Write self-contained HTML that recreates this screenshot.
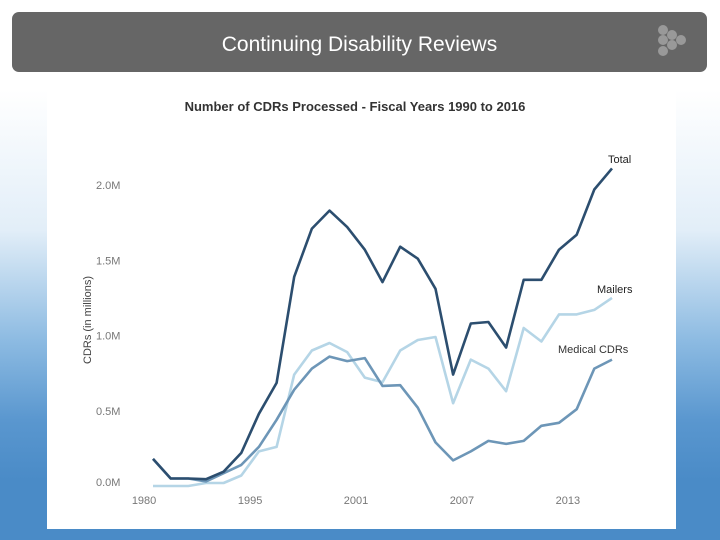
<!DOCTYPE html>
<html><head><meta charset="utf-8">
<style>
html,body{margin:0;padding:0;}
body{width:720px;height:540px;overflow:hidden;position:relative;font-family:"Liberation Sans",sans-serif;
background:linear-gradient(to bottom,#ffffff 0px,#ffffff 90px,#e2eef8 230px,#8dbbe2 340px,#5a97cf 420px,#4a8bc7 480px,#4a8bc7 540px);}
#hdr{position:absolute;left:12px;top:12px;width:695px;height:60px;background:#666;border-radius:7px;}
#hdr .t{position:absolute;left:0;right:0;top:21px;text-align:center;color:#fff;font-size:21px;}
#panel{position:absolute;left:47px;top:85px;width:629px;height:444px;background:#fff;}
svg{position:absolute;left:0;top:0;}
</style></head><body>
<div id="hdr"><div class="t">Continuing Disability Reviews</div>
<svg width="40" height="40" style="left:643px;top:12px">
<circle cx="8" cy="6" r="5" fill="#999"/><circle cx="8" cy="16" r="5" fill="#999"/><circle cx="17" cy="11" r="5" fill="#999"/><circle cx="17" cy="21" r="5" fill="#999"/><circle cx="26" cy="16" r="5" fill="#999"/><circle cx="8" cy="27" r="5" fill="#999"/>
</svg></div>
<div id="panel"></div>
<svg id="chart" width="720" height="540"></svg>
<script>
const years=[1990,1991,1992,1993,1994,1995,1996,1997,1998,1999,2000,2001,2002,2003,2004,2005,2006,2007,2008,2009,2010,2011,2012,2013,2014,2015,2016];
const totalValues=[0.18,0.05,0.05,0.045,0.095,0.22,0.48,0.685,1.39,1.71,1.83,1.72,1.57,1.355,1.59,1.51,1.31,0.74,1.08,1.09,0.92,1.37,1.37,1.57,1.67,1.97,2.11];
const mailerValues=[0,0,0,0.02,0.02,0.07,0.23,0.26,0.74,0.9,0.95,0.89,0.72,0.69,0.9,0.97,0.99,0.55,0.84,0.78,0.63,1.05,0.96,1.14,1.14,1.17,1.25];
const medicalValues=[0.18,0.05,0.05,0.03,0.085,0.14,0.26,0.44,0.64,0.78,0.86,0.83,0.85,0.665,0.67,0.52,0.29,0.17,0.23,0.30,0.28,0.30,0.40,0.42,0.51,0.78,0.84];
const yTicks=[0,0.5,1.0,1.5,2.0];
const yTickLabels=["0.0M","0.5M","1.0M","1.5M","2.0M"];
const xTickLabels=["1980","1995","2001","2007","2013"];
const xTickIdx=[-0.45,5.5,11.5,17.5,23.5];

const NS="http://www.w3.org/2000/svg";
const svg=document.getElementById('chart');
const x=i=>153+i*(459/26);
const y=v=>486-150.5*v;
function mk(tag,attrs,txt){const e=document.createElementNS(NS,tag);for(const k in attrs)e.setAttribute(k,attrs[k]);if(txt!==undefined)e.textContent=txt;svg.appendChild(e);return e;}

let t=mk('text',{x:355,y:111,'text-anchor':'middle','font-size':13,fill:'#333','font-weight':'bold'},'Number of CDRs Processed - Fiscal Years 1990 to 2016');


t=mk('text',{x:0,y:0,transform:'translate(91,320) rotate(-90)','text-anchor':'middle','font-size':11,fill:'#444'},'CDRs (in millions)');



yTicks.forEach((v,k)=>{
  const e=mk('text',{x:96,y:y(v)+(v===0?0:4),'font-size':11,fill:'#777'},yTickLabels[k]);
  
  
});
xTickLabels.forEach((s,k)=>{
  const e=mk('text',{x:x(xTickIdx[k])+(k===0?-1:0),y:504,'text-anchor':'middle','font-size':11,fill:'#777'},s);
  
  
});

function line(vals,color,name){
  const d=vals.map((v,i)=>(i?'L':'M')+x(i).toFixed(1)+','+y(v).toFixed(1)).join(' ');
  const p=mk('path',{d:d,fill:'none',stroke:color,'stroke-width':2.6,'stroke-linejoin':'round'});
  
  
}
line(mailerValues,'#b5d5e6','mailers-line');
line(medicalValues,'#6d96b7','medical-cdrs-line');
line(totalValues,'#2c4e6f','total-line');

t=mk('text',{x:608,y:163,'font-size':11,fill:'#222'},'Total');


t=mk('text',{x:597,y:293,'font-size':11,fill:'#222'},'Mailers');


t=mk('text',{x:558,y:353,'font-size':11,fill:'#333'},'Medical CDRs');


</script>
</body></html>
